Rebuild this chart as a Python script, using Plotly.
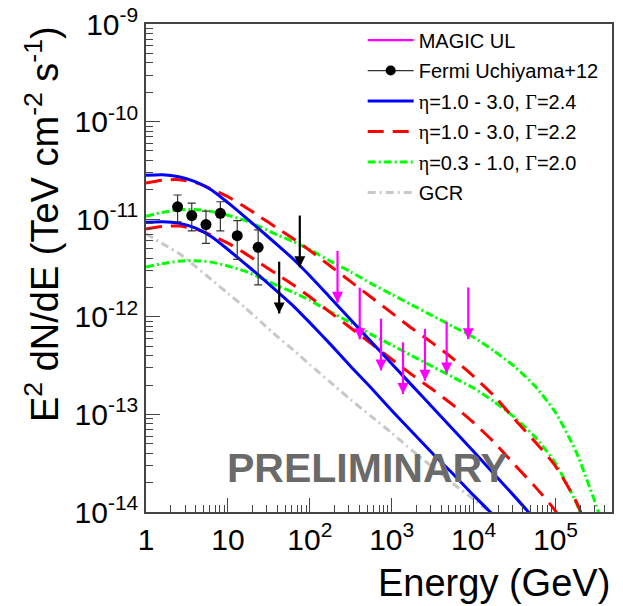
import plotly.graph_objects as go

# ---- data -------------------------------------------------------------
# energy grid (GeV) on which the model curves are tabulated
E_GEV = [1, 1.585, 2.512, 3.981, 6.310, 10, 15.85, 25.12, 39.81, 63.10,
         100, 177.8, 316.2, 562.3, 1000, 1778, 3162, 5623, 1e4, 1.778e4,
         3.162e4, 5.623e4, 1e5, 1.778e5, 3.162e5, 3.981e5]

# log10 of E^2 dN/dE (TeV cm^-2 s^-1) for each model curve
BLUE_HI_LOG = [-10.55, -10.545, -10.565, -10.615, -10.70, -10.83, -10.97, -11.115,
               -11.26, -11.41, -11.58, -11.805, -12.03, -12.255, -12.48, -12.705,
               -12.93, -13.155, -13.38, -13.61, -13.84, -14.08, -14.35]
BLUE_LO_LOG = [-11.03, -11.025, -11.04, -11.09, -11.18, -11.31, -11.45, -11.59,
               -11.74, -11.89, -12.06, -12.28, -12.51, -12.73, -12.96, -13.18,
               -13.40, -13.61, -13.83, -14.04, -14.28]
RED_HI_LOG = [-10.63, -10.60, -10.595, -10.625, -10.69, -10.77, -10.87, -10.98,
              -11.09, -11.20, -11.32, -11.48, -11.64, -11.80, -11.96, -12.12,
              -12.27, -12.43, -12.61, -12.81, -13.05, -13.28, -13.53, -13.89, -14.40]
RED_LO_LOG = [-11.10, -11.075, -11.07, -11.10, -11.165, -11.245, -11.345, -11.455,
              -11.565, -11.675, -11.795, -11.955, -12.115, -12.275, -12.435, -12.595,
              -12.745, -12.905, -13.085, -13.285, -13.515, -13.74, -13.99, -14.36]
GREEN_HI_LOG = [-10.97, -10.93, -10.905, -10.90, -10.92, -10.96, -11.01, -11.08,
                -11.16, -11.23, -11.31, -11.43, -11.54, -11.66, -11.77, -11.88,
                -11.99, -12.10, -12.21, -12.35, -12.51, -12.71, -12.98, -13.38,
                -13.94, -14.20]
GREEN_LO_LOG = [-11.49, -11.455, -11.43, -11.425, -11.44, -11.48, -11.53, -11.60,
                -11.68, -11.75, -11.83, -11.95, -12.06, -12.18, -12.29, -12.40,
                -12.51, -12.62, -12.73, -12.87, -13.03, -13.23, -13.50, -13.90, -14.46]
GCR_LOG = [-11.15, -11.25, -11.35, -11.48, -11.62, -11.76, -11.90, -12.05,
           -12.20, -12.34, -12.49, -12.67, -12.85, -13.02, -13.19, -13.37,
           -13.54, -13.71, -13.87, -14.04]

# Fermi-LAT spectral points (Uchiyama+12)
FERMI_E = [2.43, 3.62, 5.4, 8.09, 13.0, 23.4]
FERMI_FLUX = [1.34e-11, 1.09e-11, 8.8e-12, 1.15e-11, 6.78e-12, 5.15e-12]
FERMI_UP = [1.77e-11, 1.46e-11, 1.21e-11, 1.51e-11, 9.66e-12, 7.76e-12]
FERMI_DOWN = [9.4e-12, 7.6e-12, 5.66e-12, 7.6e-12, 3.88e-12, 2.12e-12]

# Fermi-LAT upper limits
FERMI_UL_E = [42.3, 75.5]
FERMI_UL = [3.67e-12, 1.09e-11]

# MAGIC upper limits
MAGIC_E = [218, 407, 741, 1374, 2547, 4690, 8610]
MAGIC_UL = [4.72e-12, 1.99e-12, 9.57e-13, 5.48e-13, 7.5e-13, 8.9e-13, 2.0e-12]

# ---- styling constants --------------------------------------------------
FONT = "Liberation Sans, Arial, Helvetica, sans-serif"
SERIF = "Liberation Serif, Times New Roman, serif"
AXIS_COLOR = "#444444"
ARROW_DROP = 10 ** -0.53     # arrow length, in decades below the limit
ARROW_HEAD = 11


def to_flux(logs):
    return [10 ** v for v in logs]


def greek(s):
    return f'<span style="font-family:{SERIF}">{s}</span>'


ETA, GAMMA = greek("η"), greek("Γ")

fig = go.Figure()


def add_curve(logs, color, dash, width, name=None, rank=None):
    fig.add_trace(go.Scatter(
        x=E_GEV[:len(logs)], y=to_flux(logs), mode="lines",
        line=dict(color=color, width=width, dash=dash, shape="spline", smoothing=0.6),
        name=name or "", showlegend=name is not None,
        legendgroup=name or None,
        legendrank=rank if rank is not None else 1000, hoverinfo="skip"))


add_curve(GCR_LOG, "#c8c8c8", "8px,4px,2px,4px", 3, "GCR", 6)
add_curve(GREEN_LO_LOG, "#00ff00", "8px,3px,2px,3px", 3)
add_curve(GREEN_HI_LOG, "#00ff00", "8px,3px,2px,3px", 3,
          f"{ETA}=0.3 - 1.0, {GAMMA}=2.0", 5)
add_curve(RED_LO_LOG, "#ff0000", "16px,9px", 3)
add_curve(RED_HI_LOG, "#ff0000", "16px,9px", 3,
          f"{ETA}=1.0 - 3.0, {GAMMA}=2.2", 4)
add_curve(BLUE_LO_LOG, "#0000ff", "solid", 3)
add_curve(BLUE_HI_LOG, "#0000ff", "solid", 3,
          f"{ETA}=1.0 - 3.0, {GAMMA}=2.4", 3)


def add_limits(energies, limits, color, name=None, rank=None):
    xs, ys = [], []
    for e, ul in zip(energies, limits):
        xs += [e, e, None]
        ys += [ul, ul * ARROW_DROP, None]
    fig.add_trace(go.Scatter(
        x=xs, y=ys, mode="lines", line=dict(color=color, width=2.2),
        name=name or "", showlegend=name is not None,
        legendgroup=name or None,
        legendrank=rank if rank is not None else 1000, hoverinfo="skip"))
    fig.add_trace(go.Scatter(
        x=energies, y=[ul * ARROW_DROP for ul in limits], mode="markers",
        marker=dict(symbol="arrow-down", size=ARROW_HEAD, color=color,
                    line=dict(width=0)),
        showlegend=False, hoverinfo="skip"))


# Fermi data points with asymmetric error bars
fig.add_trace(go.Scatter(
    x=FERMI_E, y=FERMI_FLUX, mode="markers",
    marker=dict(symbol="circle", size=11, color="black"),
    error_y=dict(type="data", symmetric=False,
                 array=[u - f for u, f in zip(FERMI_UP, FERMI_FLUX)],
                 arrayminus=[f - d for f, d in zip(FERMI_FLUX, FERMI_DOWN)],
                 color="#333333", thickness=1.2, width=4),
    showlegend=False, hoverinfo="skip"))
# legend key for the Fermi points (line through marker)
fig.add_trace(go.Scatter(
    x=[None], y=[None], mode="lines+markers",
    line=dict(color="#333333", width=1.2),
    marker=dict(symbol="circle", size=10, color="black"),
    name="Fermi Uchiyama+12", legendgroup="fermi", legendrank=2))

add_limits(FERMI_UL_E, FERMI_UL, "black")
add_limits(MAGIC_E, MAGIC_UL, "#ff00ff", "MAGIC UL", 1)

# ---- axes ----------------------------------------------------------------
x_major = [1, 10, 100, 1e3, 1e4, 1e5]
x_text = ["1", "10", "10<sup>2</sup>", "10<sup>3</sup>", "10<sup>4</sup>", "10<sup>5</sup>"]
x_minor = [m * 10 ** p for p in range(0, 6) for m in range(2, 10)]
y_major = [10.0 ** p for p in range(-14, -8)]
y_text = [f"10<sup>{p}</sup>" for p in range(-14, -8)]
y_minor = [m * 10.0 ** p for p in range(-14, -9) for m in range(2, 10)]

axis_common = dict(
    type="log", showgrid=False, zeroline=False, showline=True,
    linecolor=AXIS_COLOR, linewidth=1.5, mirror=True,
    ticks="inside", ticklen=14, tickwidth=1, tickcolor=AXIS_COLOR,
    tickfont=dict(family=FONT, size=30, color="black"),
    tickmode="array", automargin=False,
)
fig.update_xaxes(range=[0, 5.69], tickvals=x_major, ticktext=x_text,
                 minor=dict(tickmode="array", tickvals=x_minor, ticks="inside",
                            ticklen=7, tickcolor=AXIS_COLOR, showgrid=False),
                 **axis_common)
fig.update_yaxes(range=[-14, -9], tickvals=y_major, ticktext=y_text,
                 minor=dict(tickmode="array", tickvals=y_minor, ticks="inside",
                            ticklen=7, tickcolor=AXIS_COLOR, showgrid=False),
                 **axis_common)

# ---- text ----------------------------------------------------------------
fig.add_annotation(text="<b>PRELIMINARY</b>", xref="paper", yref="paper",
                   x=0.476, y=0.09, xanchor="center", yanchor="middle",
                   showarrow=False, font=dict(family=FONT, size=41, color="#6a6a6a"))
fig.add_annotation(text="Energy (GeV)", xref="paper", yref="paper",
                   x=1.0, y=-0.192, xanchor="right", yanchor="bottom",
                   showarrow=False, font=dict(family=FONT, size=38, color="black"))
fig.add_annotation(text="E<sup>2</sup> dN/dE (TeV cm<sup>-2</sup> s<sup>-1</sup>)",
                   xref="paper", yref="paper", x=-0.223, y=1.0,
                   xanchor="center", yanchor="top", textangle=-90,
                   showarrow=False, font=dict(family=FONT, size=38, color="black"))

fig.update_layout(
    width=623, height=606,
    margin=dict(l=146, r=11, t=24, b=94, pad=0, autoexpand=False),
    paper_bgcolor="white", plot_bgcolor="white",
    font=dict(family=FONT, color="black"),
    legend=dict(x=0.465, y=1.007, xanchor="left", yanchor="top",
                bgcolor="rgba(0,0,0,0)", borderwidth=0,
                font=dict(family=FONT, size=20, color="black"),
                itemwidth=46, tracegroupgap=1.5, traceorder="grouped"),
)

fig.write_html("out.html")
